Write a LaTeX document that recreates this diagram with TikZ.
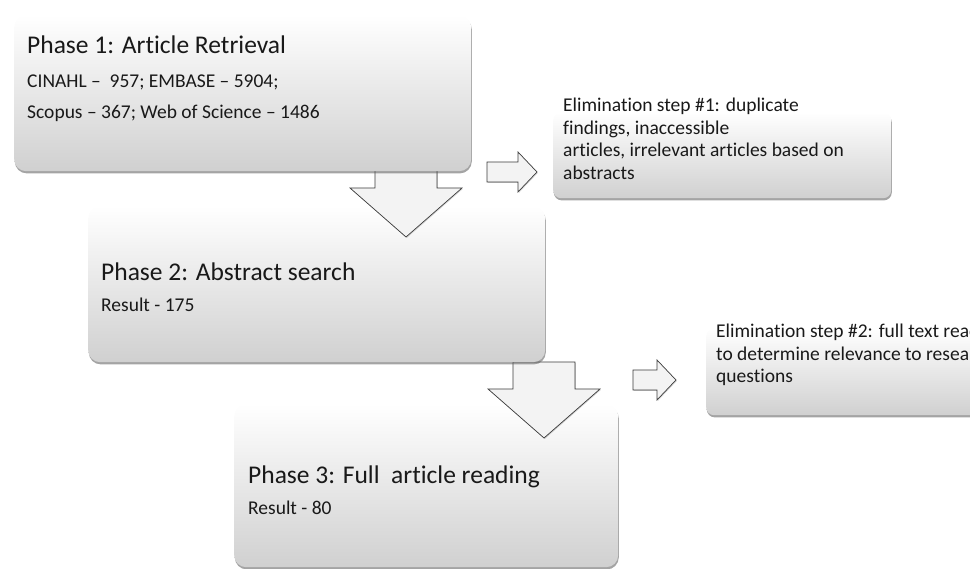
\documentclass[tikz,border=0pt]{standalone}
\usepackage{fontspec}
\setmainfont{Carlito}[Ligatures=NoCommon]
\usetikzlibrary{shadows}
\definecolor{boxbottom}{RGB}{208,208,208}
\definecolor{arrowfill}{RGB}{243,243,243}
\definecolor{arrowline}{RGB}{60,60,60}
\definecolor{inktext}{RGB}{25,25,25}
\begin{document}
\begin{tikzpicture}[x=1pt,y=-1pt,
  phasebox/.style={rectangle, rounded corners=12pt, inner sep=0pt, anchor=north west,
    top color=white, bottom color=boxbottom,
    drop shadow={shadow xshift=0.6pt, shadow yshift=-2.2pt, fill=black!65, opacity=0.55}},
  elimbox/.style={phasebox, rounded corners=8pt},
  blockarrow/.style={fill=arrowfill, draw=arrowline, line width=0.7pt, line join=miter,
    drop shadow={shadow xshift=0.8pt, shadow yshift=-1pt, fill=black!40, opacity=0.4}},
  title/.style={anchor=base west, inner sep=0pt, font=\fontsize{25.5}{30}\selectfont, text=inktext},
  % multi-line bodies sit on the baseline of their last line
  body/.style={anchor=base west, inner sep=0pt, font=\fontsize{19.5}{22.5}\selectfont,
    text=inktext, align=left},
]
\useasboundingbox (0,0) rectangle (970,569);
\clip (0,0) rectangle (970,569);

% Phase 3 box and its arrow from phase 2
\node[phasebox, minimum width=384pt, minimum height=163pt] (p3) at (234,404) {};
\draw[blockarrow] (513,362) -- (513,389) -- (488,389) -- (544,438) -- (600,389)
  -- (575,389) -- (575,362) -- cycle;

% Phase 2 box and its arrow from phase 1
\node[phasebox, minimum width=457pt, minimum height=156pt] (p2) at (88,206) {};
\draw[blockarrow] (375,165) -- (375,188) -- (350,188) -- (406,237) -- (462,188)
  -- (437,188) -- (437,165) -- cycle;

% Phase 1 box
\node[phasebox, minimum width=457pt, minimum height=156pt] (p1) at (14,15) {};

% Elimination steps with their side arrows
\draw[blockarrow] (487,162) -- (518,162) -- (518,152) -- (537,172) -- (518,192)
  -- (518,182) -- (487,182) -- cycle;
\node[elimbox, minimum width=338pt, minimum height=86pt] (e1) at (553,112) {};
\draw[blockarrow] (633,370) -- (657,370) -- (657,360) -- (676,380) -- (657,400)
  -- (657,390) -- (633,390) -- cycle;
\node[elimbox, minimum width=338pt, minimum height=87pt] (e2) at (706,328) {};

% Texts
\node[title] (p1title) at (27,54) {Phase 1: Article Retrieval};
\node[body] (p1a) at (27,88) {CINAHL –\ \ 957; EMBASE – 5904;};
\node[body] (p1b) at (27,119) {Scopus – 367; Web of Science – 1486};

\node[title] (p2title) at (101,281) {Phase 2: Abstract search};
\node[body] (p2a) at (101,312) {Result - 175};

\node[title] (p3title) at (248,483) {Phase 3: Full\ \ article reading};
\node[body] (p3a) at (248,514) {Result - 80};

\node[body] (e1text) at (563,179.5) {Elimination step \#1: duplicate\\findings, inaccessible\\articles, irrelevant articles based on\\abstracts};
\node[body] (e2text) at (716,383) {Elimination step \#2: full text reading\\to determine relevance to research\\questions};
\end{tikzpicture}
\end{document}
